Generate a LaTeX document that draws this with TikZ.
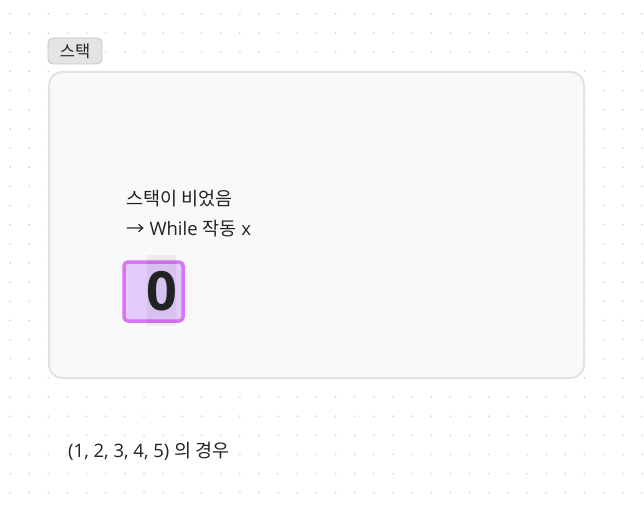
\documentclass[tikz,border=0pt]{standalone}
\usepackage{fontspec}
\setmainfont{Open Sans}
\newfontfamily\kr{Noto Sans CJK KR}
\usepackage{xcolor}
\definecolor{dotgray}{HTML}{D6D6D6}
\definecolor{boxline}{HTML}{E2E2E2}
\definecolor{boxfill}{HTML}{F9F9F9}
\definecolor{tagfill}{HTML}{E4E4E4}
\definecolor{tagline}{HTML}{C4C4C4}
\definecolor{cellfill}{HTML}{E3CCFC}
\definecolor{cellline}{HTML}{D874F5}
\definecolor{inkgray}{HTML}{222222}
\usetikzlibrary{positioning}

\begin{document}
\begin{tikzpicture}[x=1pt, y=-1pt,
        stackbox/.style={draw=boxline, line width=2pt, fill=boxfill, rounded corners=13pt},
        tag/.style={draw=tagline, line width=0.8pt, fill=tagfill, rounded corners=5pt, minimum width=54pt, minimum height=26pt, inner sep=0pt, font=\kr\fontsize{16.5}{18}\selectfont, text=inkgray},
        note/.style={anchor=west, inner sep=0pt, font=\fontsize{18.5}{20}\selectfont, text=inkgray},
        cell/.style={draw=cellline, line width=3.5pt, fill=cellfill, rounded corners=4pt, minimum size=59pt, inner sep=0pt}]
        \useasboundingbox (0,0) rectangle (644,508);
        % background dots
        \foreach \i in {0,...,33}
            \foreach \j in {0,...,25}
                \fill[dotgray] ({10+19.15*\i},{14+19.15*\j}) circle (1pt);

        \draw[stackbox] (49,72) rectangle (584,378);
        \node[tag] (label) at (75,51) {스택};

        \node[note] (empty) at (126,199) {\kr 스택이 비었음};
        \node[note] (skip) at (126,229) {{\kr →} While {\kr 작동} x};

        \node[cell] (top) at (153.5,291.5) {};
        \fill[black, opacity=0.05] (147,255) rectangle (175.5,326);
        \node[inner sep=0pt, font=\fontsize{54}{60}\selectfont\bfseries, text=inkgray] (zero) at (161.5,291) {0};

        \node[note] (case) at (68,451) {(1, 2, 3, 4, 5) {\kr 의 경우}};
\end{tikzpicture}
\end{document}
